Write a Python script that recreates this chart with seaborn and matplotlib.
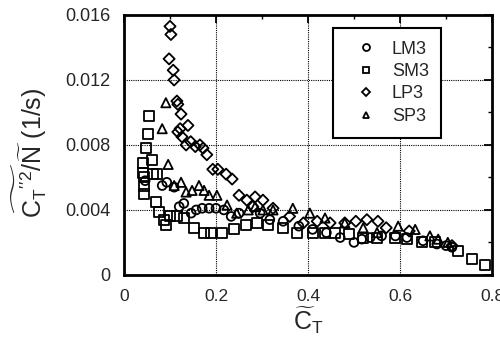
import matplotlib
matplotlib.use("Agg")
import matplotlib.pyplot as plt
import seaborn as sns
import pandas as pd
from matplotlib.ticker import MultipleLocator
from matplotlib.lines import Line2D

# ---- data ----
lm3_x = [0.046, 0.083, 0.093, 0.109, 0.12, 0.13, 0.146, 0.157, 0.17, 0.185, 0.20, 0.217,
         0.233, 0.25, 0.296, 0.317, 0.346, 0.38, 0.41, 0.44, 0.47, 0.50, 0.517, 0.535,
         0.56, 0.59, 0.615, 0.65, 0.68, 0.70, 0.713]
lm3_y = [0.0058, 0.0055, 0.0057, 0.0054, 0.0042, 0.0044, 0.0038, 0.0040, 0.0041, 0.0041, 0.0041, 0.0040,
         0.0036, 0.0038, 0.0038, 0.0034, 0.0033, 0.0030, 0.0028, 0.0026, 0.0023, 0.0020, 0.0022, 0.0023,
         0.0024, 0.0024, 0.0023, 0.0021, 0.0019, 0.0018, 0.0017]

sm3_x = [0.041, 0.041, 0.043, 0.043, 0.043, 0.048, 0.052, 0.054, 0.061, 0.063, 0.072, 0.07,
         0.076, 0.087, 0.091, 0.10, 0.115, 0.13, 0.152, 0.174, 0.19, 0.213, 0.239, 0.265,
         0.289, 0.313, 0.346, 0.376, 0.41, 0.437, 0.459, 0.49, 0.52, 0.55, 0.589, 0.615,
         0.648, 0.676, 0.726, 0.757, 0.785]
sm3_y = [0.0069, 0.0063, 0.0060, 0.0055, 0.0050, 0.0078, 0.0087, 0.0098, 0.0071, 0.0062, 0.0062, 0.0045,
         0.0039, 0.0034, 0.0031, 0.0036, 0.0036, 0.0035, 0.0029, 0.0026, 0.0026, 0.0026, 0.0028, 0.0031,
         0.0032, 0.0031, 0.0029, 0.0026, 0.0026, 0.0026, 0.0026, 0.0025, 0.0023, 0.0023, 0.0023, 0.0022,
         0.0020, 0.0020, 0.0015, 0.0010, 0.0006]

lp3_x = [0.100, 0.102, 0.098, 0.107, 0.109, 0.115, 0.117, 0.124, 0.139, 0.122, 0.117, 0.126,
         0.135, 0.145, 0.155, 0.165, 0.172, 0.180, 0.193, 0.204, 0.222, 0.235, 0.25, 0.267,
         0.285, 0.302, 0.28, 0.324, 0.36, 0.39, 0.42, 0.448, 0.48, 0.504, 0.528, 0.552,
         0.57, 0.62, 0.713]
lp3_y = [0.0153, 0.0148, 0.0133, 0.0126, 0.0120, 0.0107, 0.0105, 0.0099, 0.0092, 0.0090, 0.0088, 0.0085,
         0.0080, 0.0082, 0.0079, 0.0080, 0.0078, 0.0074, 0.0065, 0.0065, 0.0062, 0.0059, 0.0049, 0.0046,
         0.0048, 0.0046, 0.0042, 0.0041, 0.0036, 0.0032, 0.0033, 0.0032, 0.0032, 0.0033, 0.0034, 0.0033,
         0.0029, 0.0027, 0.0018]

sp3_x = [0.091, 0.083, 0.096, 0.109, 0.124, 0.135, 0.148, 0.163, 0.174, 0.185, 0.202, 0.224,
         0.245, 0.27, 0.285, 0.302, 0.324, 0.367, 0.404, 0.437, 0.48, 0.52, 0.55, 0.596,
         0.633, 0.665, 0.683, 0.704]
sp3_y = [0.0106, 0.0090, 0.0068, 0.0055, 0.0057, 0.0051, 0.0052, 0.0055, 0.0052, 0.0049, 0.0049, 0.0043,
         0.0038, 0.0040, 0.0042, 0.0040, 0.0040, 0.0041, 0.0038, 0.0035, 0.0032, 0.0029, 0.0026, 0.0030,
         0.0028, 0.0024, 0.0022, 0.0020]

series = ["LM3", "SM3", "LP3", "SP3"]
x_ticks = [0, 0.2, 0.4, 0.6, 0.8]
x_ticklabels = ["0", "0.2", "0.4", "0.6", "0.8"]
y_ticks = [0, 0.004, 0.008, 0.012, 0.016]
y_ticklabels = ["0", "0.004", "0.008", "0.012", "0.016"]

df = pd.concat([
    pd.DataFrame({"x": lm3_x, "y": lm3_y, "s": "LM3"}),
    pd.DataFrame({"x": sm3_x, "y": sm3_y, "s": "SM3"}),
    pd.DataFrame({"x": lp3_x, "y": lp3_y, "s": "LP3"}),
    pd.DataFrame({"x": sp3_x, "y": sp3_y, "s": "SP3"}),
], ignore_index=True)

sns.set_theme(style="white")
plt.rcParams["font.family"] = ["Liberation Sans", "DejaVu Sans"]
plt.rcParams["mathtext.fontset"] = "custom"
plt.rcParams["mathtext.rm"] = "Liberation Sans"
plt.rcParams["mathtext.it"] = "Liberation Sans"
plt.rcParams["mathtext.bf"] = "Liberation Sans:bold"

fig = plt.figure(figsize=(5.0, 3.57), dpi=100)
ax = fig.add_axes([0.248, 0.230, 0.736, 0.728])

markers = {"LM3": "o", "SM3": "s", "LP3": "D", "SP3": "^"}
sizes = {"LM3": 40, "SM3": 52, "LP3": 32, "SP3": 44}
for s in series:
    sub = df[df["s"] == s]
    sns.scatterplot(data=sub, x="x", y="y", marker=markers[s], s=sizes[s],
                    facecolor="none", edgecolor="black", linewidth=1.3,
                    ax=ax, legend=False, zorder=3)

ax.set_xlim(0, 0.8)
ax.set_ylim(0, 0.016)
ax.set_xticks(x_ticks)
ax.set_xticklabels(x_ticklabels)
ax.set_yticks(y_ticks)
ax.set_yticklabels(y_ticklabels)
ax.xaxis.set_minor_locator(MultipleLocator(0.1))
ax.yaxis.set_minor_locator(MultipleLocator(0.002))
ax.tick_params(which="both", direction="in", top=True, right=True, color="black")
ax.tick_params(which="major", length=6, width=1.3)
ax.tick_params(axis="x", which="major", labelsize=12.5, pad=10)
ax.tick_params(axis="y", which="major", labelsize=13, pad=10)
ax.tick_params(which="minor", length=3, width=1.0)
for sp in ax.spines.values():
    sp.set_color("black")
    sp.set_linewidth(2.0)
ax.grid(True, which="major", linestyle=(0, (1, 1)), color="black", linewidth=0.8)
ax.set_axisbelow(True)

ax.set_xlabel(r"$\widetilde{\mathrm{C}}_{\mathrm{T}}$", fontsize=18, labelpad=1)
ax.set_ylabel(r"$\widetilde{\mathrm{C_T}''^2}/\widetilde{\mathrm{N}}$ (1/s)", fontsize=18)
ax.yaxis.set_label_coords(-0.205, 0.47)

# legend
handles = [Line2D([], [], linestyle="none", marker=markers[s], markersize=5 if s != "LP3" else 4.5,
                  markerfacecolor="none", markeredgecolor="black", markeredgewidth=1.3)
           for s in series]
leg = ax.legend(handles, series, loc="upper left", bbox_to_anchor=(0.568, 0.95),
                frameon=True, fancybox=False, edgecolor="black", fontsize=13,
                handletextpad=0.35, borderpad=0.7, labelspacing=0.3, handlelength=2.2,
                borderaxespad=0)
leg.get_frame().set_linewidth(1.5)
leg.get_frame().set_facecolor("white")
leg.get_frame().set_alpha(1)

fig.savefig("out.png", dpi=100)
